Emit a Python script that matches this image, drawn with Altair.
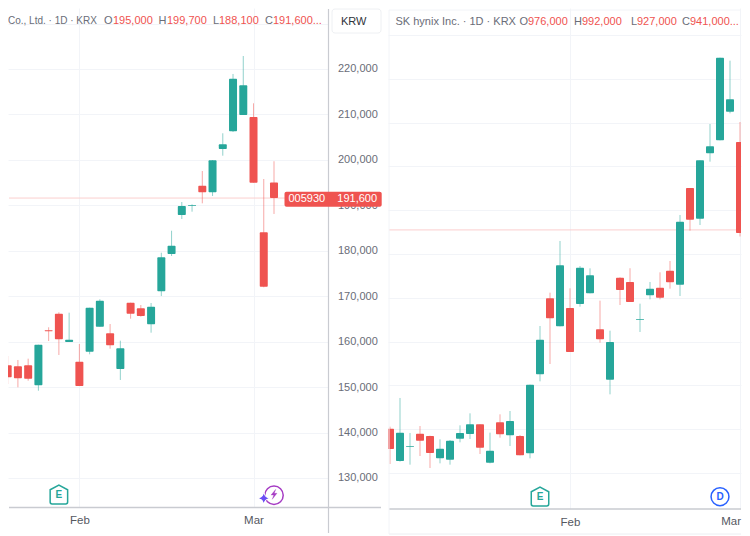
import altair as alt
import pandas as pd

GREEN = "#26a69a"
RED = "#ef5350"
GRID = "#f2f4f8"
AXISLINE = "#c9cbd1"
GRAY = "#6a6d78"
FONT = "Liberation Sans"

# Samsung Electronics (005930) daily candles
s_open = [141700,154800,154570,154800,150390,162500,166150,159920,155590,157790,163290,161840,153980,168570,167340,163820,171080,179290,187870,189850,194320,192870,202390,206290,209880,209440,184060,195000]
s_high = [149400,156840,155960,156250,159330,163160,166460,166370,159480,167470,169320,163880,160210,168570,168060,168500,179570,184410,190730,190220,197550,199970,205850,218900,222860,212450,195790,199700]
s_low = [141700,150680,149950,151400,149200,160140,157060,159920,150240,157210,163290,158450,151560,165050,165490,161970,170040,178850,186990,188600,190440,192050,200920,206140,209880,194980,171960,188100]
s_close = [149400,152150,151930,151840,159330,162280,160510,160430,150240,167470,169010,159200,158540,166150,165640,167690,178560,181110,189850,190000,192870,199910,203430,217870,216410,194980,172090,191600]

# SK hynix daily candles
h_open = [850250,835480,842030,847960,846900,836700,836090,845680,847810,852230,834720,853140,847200,846900,838980,875060,909760,896970,905340,907170,912040,895600,872620,919190,917220,899860,911130,914630,922390,916000,960140,946130,975960,981900,994990,981140]
h_high = [851160,864250,848270,851460,847050,845380,845070,851770,857250,852230,848420,856790,858310,847350,870340,897120,912340,935940,914320,924500,923460,908690,894990,919350,923500,907320,917220,921630,926800,947810,960140,972770,989360,1019650,1018280,990270]
h_low = [834110,835180,833810,837770,832290,834420,833810,844010,845530,838680,834420,846140,842330,838070,836700,871860,879770,896970,885250,905950,912040,889510,865920,906710,908080,894390,909300,909300,914170,910820,940650,943240,972160,981900,994230,938000]
h_close = [840960,848420,842330,844770,839140,841120,844770,848270,852230,841570,840200,847660,853750,838070,870340,890880,900630,924830,885250,923760,920260,891040,889820,913560,908080,900170,914170,910060,917060,944760,945680,972770,979160,1019650,1000620,939590]

left_ticks = [130000,140000,150000,160000,170000,180000,190000,200000,210000,220000,230000]
right_ticks = [830000 + 20000*k for k in range(11)]
left_month_idx = [8, 25]
right_month_idx = [18, 35]
month_names = ["Feb", "Mar"]
left_price = 191600
right_price = 941000
left_earn = [6]
right_earn = [15]
right_div = [33]
left_spark = [27]
left_star = [26]

one = pd.DataFrame({"a": [0]})


def frame(o, h, l, c):
    return pd.DataFrame({
        "i": list(range(len(o))),
        "open": o, "high": h, "low": l, "close": c,
        "dir": ["up" if b >= a else "down" for a, b in zip(o, c)],
    })


def label(text, x, y, color=GRAY, size=11, weight="normal", align="left"):
    return alt.Chart(one).mark_text(text=text, color=color, fontSize=size, font=FONT,
                                    fontWeight=weight, align=align, baseline="middle"
                                    ).encode(x=alt.value(x), y=alt.value(y))


def hline(x0, x1, y, color, w=1):
    return alt.Chart(one).mark_rule(color=color, strokeWidth=w).encode(
        x=alt.value(x0), x2=alt.value(x1), y=alt.value(y))


def vline(x, y0, y1, color, w=1):
    return alt.Chart(one).mark_rule(color=color, strokeWidth=w).encode(
        x=alt.value(x), y=alt.value(y0), y2=alt.value(y1))


class Panel:
    def __init__(self, df, xdom, ydom, ticks, months, show_labels, month_labels):
        self.df = df
        self.xs = alt.Scale(domain=xdom, nice=False, zero=False, padding=0)
        self.ys = alt.Scale(domain=ydom, nice=False, zero=False, padding=0)
        expr = " : ".join(f"datum.value == {m} ? '{n}'" for m, n in month_labels) + " : ''"
        self.xax = alt.Axis(values=months, labelExpr=expr, title=None, domain=False, ticks=False,
                            grid=True, gridColor=GRID, gridWidth=1, labelColor="#55585f", labelFontSize=11.5,
                            labelFont=FONT, labelPadding=7, labelOverlap=False, labelFlush=False,
                            labelBound=False)
        # the 230,000 label sits wholly under the KRW box in the reference
        self.yax = alt.Axis(values=ticks, orient="right", title=None, domain=False, ticks=False, grid=True,
                            gridColor=GRID, gridWidth=1, labels=show_labels, labelColor=GRAY, labelFontSize=11,
                            labelFont=FONT, labelPadding=9, labelAlign="left", labelOverlap=False,
                            labelBound=False,
                            labelExpr="datum.value == 230000 ? '' : format(datum.value, ',')")

    def x(self):
        return alt.X("i:Q", scale=self.xs, axis=self.xax)

    def wick(self):
        color = alt.Color("dir:N", scale=alt.Scale(domain=["up", "down"], range=[GREEN, RED]), legend=None)
        return alt.Chart(self.df).mark_rule(strokeWidth=1, opacity=0.5, clip=True).encode(
            x=self.x(), y=alt.Y("low:Q", scale=self.ys, axis=self.yax), y2="high:Q", color=color)

    def body(self):
        color = alt.Color("dir:N", scale=alt.Scale(domain=["up", "down"], range=[GREEN, RED]), legend=None)
        return alt.Chart(self.df).mark_bar(size=8, clip=True, cornerRadius=1).encode(
            x=self.x(), y=alt.Y("open:Q", scale=self.ys, axis=self.yax), y2="close:Q", color=color)

    def price(self, p, x0, x1):
        return alt.Chart(pd.DataFrame({"p": [p]})).mark_rule(
            color="#fbcfce", strokeWidth=1).encode(
            y=alt.Y("p:Q", scale=self.ys, axis=self.yax), x=alt.value(x0), x2=alt.value(x1))

    def marker(self, idx, y, path, size, fill, stroke, w=1.5):
        return alt.Chart(pd.DataFrame({"i": idx})).mark_point(
            shape=path, size=size, fill=fill, stroke=stroke, strokeWidth=w, opacity=1, filled=False,
            fillOpacity=1).encode(x=self.x(), y=alt.value(y))

    def mtext(self, idx, y, text, color):
        return alt.Chart(pd.DataFrame({"i": idx})).mark_text(
            text=text, color=color, fontSize=10, fontWeight="bold", font=FONT, baseline="middle").encode(
            x=self.x(), y=alt.value(y))


HOUSE = "M-0.92,-0.5 L0,-1 L0.92,-0.5 L0.92,0.8 Q0.92,1 0.72,1 L-0.72,1 Q-0.92,1 -0.92,0.8 Z"
STAR = "M0,-1 Q0.15,-0.15 1,0 Q0.15,0.15 0,1 Q-0.15,0.15 -1,0 Q-0.15,-0.15 0,-1 Z"
BOLT = "M0.35,-1 L-0.6,0.15 L-0.05,0.15 L-0.35,1 L0.6,-0.2 L0.05,-0.2 Z"

# ---------- left panel ----------
LW, LH = 320.5, 499
L = Panel(frame(s_open, s_high, s_low, s_close), [1.032, 32.32], [123609, 233424], left_ticks,
          left_month_idx, True, list(zip(left_month_idx, month_names)))

left = alt.layer(
    L.price(left_price, 1, 277), L.wick(), L.body(),
    vline(320.5, 1, 525, AXISLINE, 1.2),
    hline(1, 373, 499.5, AXISLINE, 1.5),
    alt.Chart(one).mark_rect(fill="white", stroke="#eef0f3", cornerRadius=3).encode(
        x=alt.value(324), x2=alt.value(373), y=alt.value(1), y2=alt.value(25)),
    label("KRW", 333, 13.5, "#30333a", 11),
    alt.Chart(one).mark_rect(fill=RED, cornerRadius=2).encode(
        x=alt.value(276.5), x2=alt.value(373.7), y=alt.value(183.7), y2=alt.value(198.7)),
    label("005930", 280.5, 191.2, "white"),
    label("191,600", 329.3, 191.2, "white"),
    label("Co., Ltd. · 1D · KRX", 0, 12.5, GRAY, size=10),
    label("O", 96, 12.5), label("195,000", 105, 12.5, RED),
    label("H", 150.5, 12.5), label("199,700", 159, 12.5, RED),
    label("L", 205, 12.5), label("188,100", 211, 12.5, RED),
    label("C", 257, 12.5), label("191,600...", 265, 12.5, RED),
    L.marker(left_earn, 486.5, HOUSE, 361, "white", GREEN),
    L.mtext(left_earn, 487, "E", GREEN),
    L.marker(left_spark, 487.3, "circle", 340, "white", "#a63cc4"),
    L.marker(left_star, 490.3, STAR, 130, "#6a4df5", "white", 1),
    L.marker(left_spark, 486.3, BOLT, 100, "#a63cc4", "#a63cc4", 0.3),
).properties(width=LW, height=LH)

# ---------- right panel ----------
RW, RH = 353, 501
R = Panel(frame(h_open, h_high, h_low, h_close), [-0.2, 35.1], [813567, 1042324], right_ticks,
          right_month_idx, False, [(right_month_idx[0], month_names[0])])

right = alt.layer(
    R.price(right_price, 1, RW), R.wick(), R.body(),
    hline(1, RW, 501, AXISLINE, 1.5),
    hline(1, RW, 526, "#eceef2", 1),
    hline(1, RW, 2, GRID, 1),
    vline(1, 2, 526, GRID, 1),
    label("SK hynix Inc. · 1D · KRX", 7.5, 14),
    label("O", 131.5, 14), label("976,000", 140, 14, RED),
    label("H", 186, 14), label("992,000", 194, 14, RED),
    label("L", 243, 14), label("927,000", 249, 14, RED),
    label("C", 294, 14), label("941,000...", 302, 14, RED),
    label("Mar", RW, 514, "#55585f", 11.5, align="right"),
    R.marker(right_earn, 488.5, HOUSE, 361, "white", GREEN),
    R.mtext(right_earn, 489, "E", GREEN),
    R.marker(right_div, 488.7, "circle", 320, "white", "#2962ff"),
    R.mtext(right_div, 489, "D", "#2962ff"),
).properties(width=RW, height=RH)

chart = (
    alt.hconcat(left, right, spacing=6)
    .resolve_scale(x="independent", y="independent", color="shared")
    .properties(padding=0, background="white")
    .configure_view(stroke=None)
)

chart.save("out.html", embed_options={"renderer": "svg", "actions": False})
